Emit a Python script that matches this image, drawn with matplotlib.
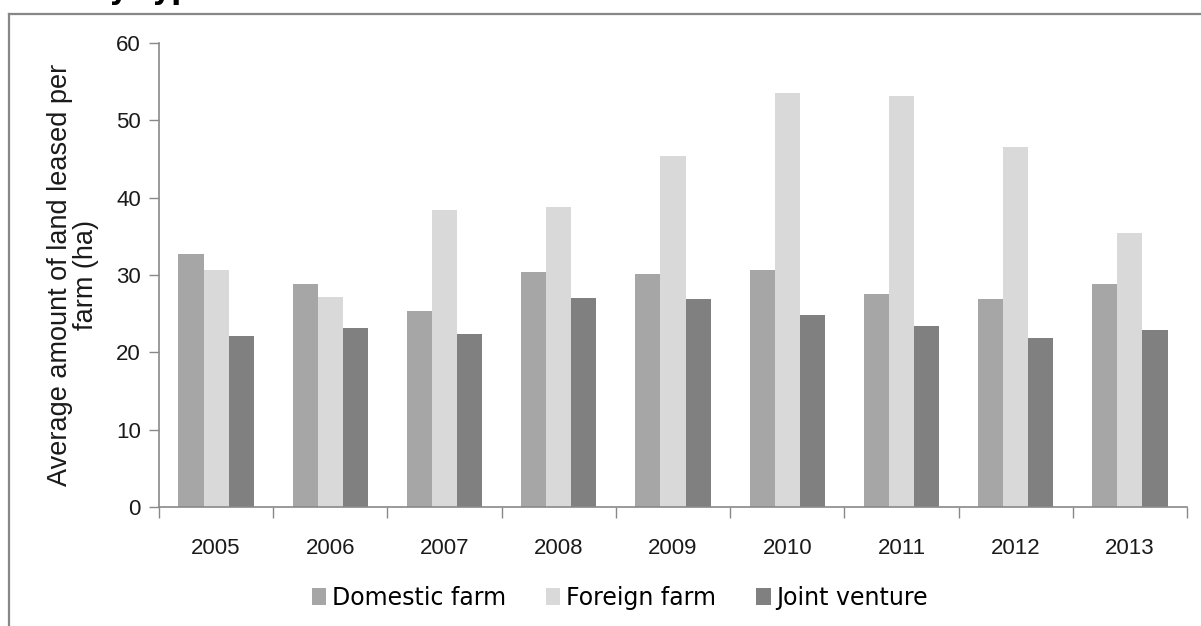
import numpy as np
import matplotlib.pyplot as plt
from matplotlib.lines import Line2D

# average land leased per farm (ha), by farm type
years = ['2005', '2006', '2007', '2008', '2009', '2010', '2011', '2012', '2013']
domestic = [32.7, 28.9, 25.3, 30.4, 30.1, 30.7, 27.6, 26.9, 28.9]
foreign = [30.6, 27.1, 38.4, 38.8, 45.4, 53.5, 53.2, 46.5, 35.4]
joint = [22.1, 23.1, 22.4, 27.0, 26.9, 24.8, 23.4, 21.8, 22.9]

labels = ['Domestic farm', 'Foreign farm', 'Joint venture']
colors = ['#a6a6a6', '#d9d9d9', '#808080']
axis_col = '#898989'

W, H = 1201, 626
fig = plt.figure(figsize=(W / 100, H / 100), dpi=100)
ax = fig.add_axes([159 / W, 1 - 507 / H, (1187 - 159) / W, (507 - 43) / H])

x = np.arange(len(years))
w = 0.22
for k, (vals, lab, c) in enumerate(zip([domestic, foreign, joint], labels, colors)):
    ax.bar(x + (k - 1) * w, vals, w, color=c, label=lab, edgecolor='none')

ax.set_xlim(-0.5, len(years) - 0.5)
ax.set_ylim(0, 60)
ax.set_yticks(range(0, 61, 10))
ax.set_xticks(x)
ax.set_xticklabels(years)
ax.set_xticks(np.arange(-0.5, len(years), 1), minor=True)
ax.tick_params(axis='x', which='major', length=0, pad=22)
ax.tick_params(axis='x', which='minor', length=8, width=1, color=axis_col)
ax.tick_params(axis='y', length=7, width=1, color=axis_col, pad=6)

for lbl in ax.get_xticklabels() + ax.get_yticklabels():
    lbl.set_fontfamily(['Liberation Sans', 'DejaVu Sans'])
    lbl.set_fontsize(16)
    lbl.set_color('#1a1a1a')

for s in ['top', 'right']:
    ax.spines[s].set_visible(False)
for s in ['left', 'bottom']:
    ax.spines[s].set_color(axis_col)
    ax.spines[s].set_linewidth(1.2)

ax.set_ylabel('Average amount of land leased per\nfarm (ha)',
              fontsize=19.5, family=['Liberation Sans', 'DejaVu Sans'],
              color='#1a1a1a', linespacing=1.0, labelpad=12)

fig.legend(loc='center', bbox_to_anchor=(620 / W, 1 - 598 / H), ncol=3,
           frameon=False, handlelength=0.6, handleheight=0.75,
           handletextpad=0.25, columnspacing=1.7,
           prop={'family': ['DejaVu Sans'], 'size': 17})

# chart frame (runs off the right and bottom edges)
fig.add_artist(Line2D([9 / W, 1.02], [1 - 14 / H, 1 - 14 / H],
                      transform=fig.transFigure, color='#878787', lw=1.6))
fig.add_artist(Line2D([9 / W, 9 / W], [1 - 14 / H, -0.02],
                      transform=fig.transFigure, color='#878787', lw=1.6))

# caption above the frame, mostly clipped by the figure edge
fig.text(212 / W, 1 + 1 / H, 'Average land leased per farm by type',
         ha='right', va='baseline', fontsize=21, fontweight='bold',
         family=['DejaVu Sans'])

fig.savefig('out.png', dpi=100)
